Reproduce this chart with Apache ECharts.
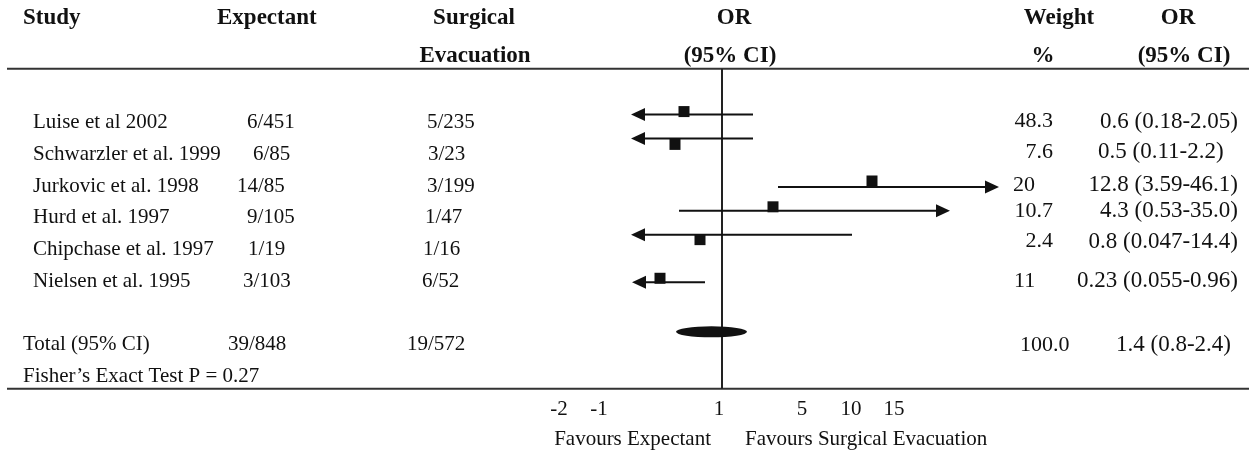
<!DOCTYPE html>
<html><head><meta charset="utf-8">
<script src="https://cdn.jsdelivr.net/npm/echarts@6/dist/echarts.min.js"></script>
<style>html,body{margin:0;padding:0;background:#fff}#c{width:1249px;height:456px}</style>
</head><body><div id="c"></div>
<script>
// ---------- DATA ----------
const studies = ['Luise et al 2002','Schwarzler et al. 1999','Jurkovic et al. 1998','Hurd et al. 1997','Chipchase et al. 1997','Nielsen et al. 1995'];
const expectant = ['6/451','6/85','14/85','9/105','1/19','3/103'];
const surgical = ['5/235','3/23','3/199','1/47','1/16','6/52'];
const weights = ['48.3','7.6','20','10.7','2.4','11'];
const orText = ['0.6 (0.18-2.05)','0.5 (0.11-2.2)','12.8 (3.59-46.1)','4.3 (0.53-35.0)','0.8 (0.047-14.4)','0.23 (0.055-0.96)'];
const totalLabel = 'Total (95% CI)';
const totalExpectant = '39/848';
const totalSurgical = '19/572';
const totalWeight = '100.0';
const totalOR = '1.4 (0.8-2.4)';
const footnote = 'Fisher\u2019s Exact Test P = 0.27';
// positions of the marks on the plot's own (hand-drawn) scale, null line = 0
const pointPos  = [-3.8, -4.7, 15.0, 5.1, -2.2, -6.2];
const ciLowPos  = [-9.1, -9.1, 5.6, -4.3, -9.1, -9.0];
const ciHighPos = [3.1, 3.1, 27.7, 22.8, 13.0, -1.7];
const arrowLeft  = [1, 1, 0, 0, 1, 1];
const arrowRight = [0, 0, 1, 1, 0, 0];
const totalLowPos = -4.6;
const totalHighPos = 2.5;
const tickLabels = ['-2','-1','1','5','10','15'];
const tickPos = [-16.3, -12.3, -0.3, 8.0, 12.9, 17.2];
const favoursLeft = 'Favours Expectant';
const favoursRight = 'Favours Surgical Evacuation';

// ---------- LAYOUT ----------
const FONT = '"Liberation Serif","Times New Roman",serif';
const INK = '#111';
const lineRow = [-0.25, 0.5, 2.03, 2.78, 3.53, 5.03];
const squareDy = [-3, 6, -6, -4, 5, -4];
const rightRow = [-0.03, 0.94, 1.97, 2.78, 3.75, 5.0];
const totalRow = 7, footRow = 8, ellipseRow = 6.59;
const headRow1 = -3.28, headRow2 = -2.1;
const headerRuleRow = -1.69, bottomRuleRow = 8.38;
const tickRow = 9.03, favoursRow = 9.97;
const expX = [247, 253, 237, 247, 248, 243];
const surX = [427, 428, 427, 425, 423, 422];
const wAlign = [['right',1053],['right',1053],['left',1013],['right',1053],['right',1053],['left',1014]];
const orAlign = [['right',1238],['left',1098],['right',1238],['right',1238],['right',1238],['right',1238]];

const chart = echarts.init(document.getElementById('c'), null, {renderer:'canvas'});

function tstyle(text, size, bold, align) {
  return {text, fill: INK, font: (bold ? 'bold ' : '') + size + 'px ' + FONT,
    align: align, verticalAlign: 'middle', textAlign: align, textVerticalAlign: 'middle'};
}

const forestData = studies.map((s, i) => [pointPos[i], ciLowPos[i], ciHighPos[i], lineRow[i], arrowLeft[i], arrowRight[i], squareDy[i]]);

chart.setOption({
  animation: false,
  grid: {left: 542, width: 460, top: 59, height: 400},
  xAxis: {type: 'value', min: -18, max: 28, show: false},
  yAxis: {type: 'value', min: -2, max: 10.5, inverse: true, show: false},
  series: [
    {
      type: 'custom', name: 'null line', clip: false,
      data: [[0, headerRuleRow, bottomRuleRow]],
      renderItem: (p, api) => {
        const a = api.coord([api.value(0), api.value(1)]);
        const b = api.coord([api.value(0), api.value(2)]);
        return {type: 'line', shape: {x1: a[0], y1: a[1], x2: b[0], y2: b[1]}, style: {stroke: '#222', lineWidth: 2}};
      }
    },
    {
      type: 'custom', name: 'studies', clip: false,
      data: forestData,
      renderItem: (p, api) => {
        const y = api.coord([0, api.value(3)])[1];
        const xp = api.coord([api.value(0), 0])[0];
        const xl = api.coord([api.value(1), 0])[0];
        const xh = api.coord([api.value(2), 0])[0];
        const aL = api.value(4), aR = api.value(5), dy = api.value(6);
        const AH = 14, HW = 6.5, SQ = 11;
        const ch = [];
        ch.push({type: 'line', shape: {x1: xl + (aL ? AH - 2 : 0), y1: y, x2: xh - (aR ? AH - 2 : 0), y2: y}, style: {stroke: '#111', lineWidth: 2}});
        if (aL) ch.push({type: 'polygon', shape: {points: [[xl, y], [xl + AH, y - HW], [xl + AH, y + HW]]}, style: {fill: '#111'}});
        if (aR) ch.push({type: 'polygon', shape: {points: [[xh, y], [xh - AH, y - HW], [xh - AH, y + HW]]}, style: {fill: '#111'}});
        ch.push({type: 'rect', shape: {x: xp - SQ / 2, y: y + dy - SQ / 2, width: SQ, height: SQ}, style: {fill: '#111'}});
        return {type: 'group', children: ch};
      }
    },
    {
      type: 'custom', name: 'total', clip: false,
      data: [[totalLowPos, totalHighPos, ellipseRow]],
      renderItem: (p, api) => {
        const a = api.coord([api.value(0), api.value(2)]);
        const b = api.coord([api.value(1), api.value(2)]);
        const rx = (b[0] - a[0]) / 2, ry = 5.5;
        return {type: 'circle', x: (a[0] + b[0]) / 2, y: a[1], scaleY: ry / rx,
          shape: {cx: 0, cy: 0, r: rx}, style: {fill: '#111'}};
      }
    },
    {
      type: 'custom', name: 'ticks', clip: false,
      data: tickPos.map((v, i) => [v, tickRow, i]),
      renderItem: (p, api) => {
        const c = api.coord([api.value(0), api.value(1)]);
        return {type: 'text', x: c[0], y: c[1], style: tstyle(tickLabels[api.value(2)], 21, false, 'center')};
      }
    }
  ]
});

const py = r => chart.convertToPixel({gridIndex: 0}, [0, r])[1];
const px = v => chart.convertToPixel({gridIndex: 0}, [v, 0])[0];
const T = (x, r, text, size, bold, align) => ({type: 'text', x: x, y: py(r), style: tstyle(text, size, bold, align)});

const g = [];
// headers
g.push(T(23, headRow1, 'Study', 23, true, 'left'));
g.push(T(217, headRow1, 'Expectant', 23, true, 'left'));
g.push(T(474, headRow1, 'Surgical', 23, true, 'center'));
g.push(T(475, headRow2, 'Evacuation', 23, true, 'center'));
g.push(T(px(1.2), headRow1, 'OR', 23, true, 'center'));
g.push(T(px(0.8), headRow2, '(95% CI)', 23, true, 'center'));
g.push(T(1059, headRow1, 'Weight', 23, true, 'center'));
g.push(T(1043, headRow2, '%', 23, true, 'center'));
g.push(T(1178, headRow1, 'OR', 23, true, 'center'));
g.push(T(1184, headRow2, '(95% CI)', 23, true, 'center'));
// rules
[headerRuleRow, bottomRuleRow].forEach(r => {
  const y = py(r);
  g.push({type: 'line', shape: {x1: 7, y1: y, x2: 1249, y2: y}, style: {stroke: '#333', lineWidth: 2}});
});
// study rows
studies.forEach((s, i) => {
  g.push(T(33, i, s, 21, false, 'left'));
  g.push(T(expX[i], i, expectant[i], 21, false, 'left'));
  g.push(T(surX[i], i, surgical[i], 21, false, 'left'));
  g.push(T(wAlign[i][1], rightRow[i], weights[i], 22, false, wAlign[i][0]));
  g.push(T(orAlign[i][1], rightRow[i], orText[i], 23, false, orAlign[i][0]));
});
// total + footnote
g.push(T(23, totalRow, totalLabel, 21, false, 'left'));
g.push(T(228, totalRow, totalExpectant, 21, false, 'left'));
g.push(T(407, totalRow, totalSurgical, 21, false, 'left'));
g.push(T(1020, totalRow, totalWeight, 22, false, 'left'));
g.push(T(1231, totalRow, totalOR, 23, false, 'right'));
g.push(T(23, footRow, footnote, 21, false, 'left'));
// favours labels
g.push(T(px(-1.1), favoursRow, favoursLeft, 21, false, 'right'));
g.push(T(px(2.3), favoursRow, favoursRight, 21, false, 'left'));

chart.setOption({graphic: {elements: g}});
</script>
</body></html>
